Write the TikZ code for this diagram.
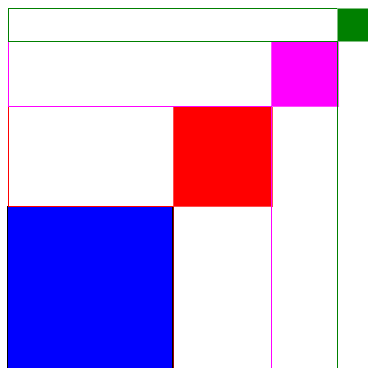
\documentclass[tikz,border=0pt]{standalone}
\begin{document}
\begin{tikzpicture}[x=1pt,y=-1pt]
\definecolor{dgreen}{RGB}{0,128,0}
\definecolor{pmag}{RGB}{255,0,255}
\definecolor{pred}{RGB}{255,0,0}
\definecolor{pblue}{RGB}{0,0,255}
\tikzset{
  gcol/.style={draw=dgreen, line width=1pt},
  mcol/.style={draw=pmag, line width=1pt},
  rcol/.style={draw=pred, line width=1pt}}
\useasboundingbox (0,0) rectangle (368,368);
% blue square
\fill[pblue] (8,206) rectangle (173,372);
\draw[black, line width=1.2pt] (7.5,372) -- (7.5,206.5) -- (173,206.5) -- (173,372);
% squares
\fill[pred, draw=pred!70, line width=0.8pt] (173,106) rectangle (272,206);
\fill[pmag, draw=pmag!70, line width=0.8pt] (271,41) rectangle (338,106);
\fill[dgreen, draw=dgreen!50, line width=0.8pt] (337,8) rectangle (372,41);
% green outline
\draw[gcol] (8.5,41.5) -- (8.5,8.5) -- (337.5,8.5);
\draw[gcol] (8.5,41.5) -- (337.5,41.5);
\draw[gcol] (337.5,41) -- (337.5,372);
% magenta outline
\draw[mcol] (8.5,42) -- (8.5,106.5) -- (271,106.5);
\draw[mcol] (271.5,106) -- (271.5,372);
% red outline
\draw[rcol] (8.5,107) -- (8.5,206.5) -- (173,206.5);
\draw[rcol, draw opacity=0.6] (173.5,206) -- (173.5,372);
\end{tikzpicture}
\end{document}
